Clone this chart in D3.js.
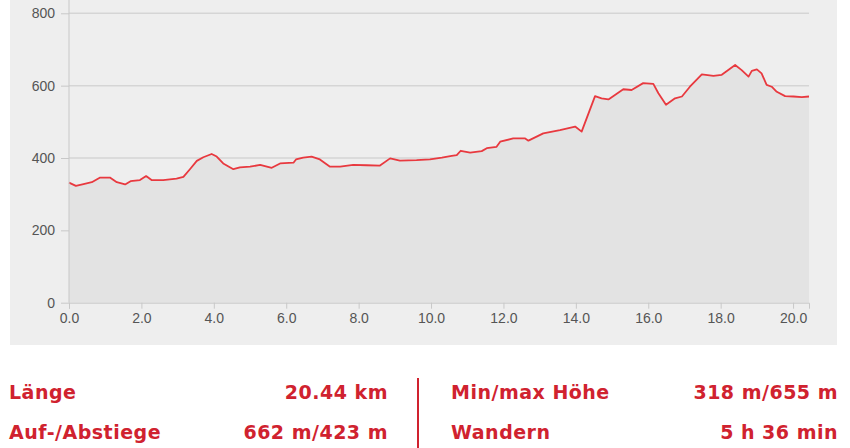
<!DOCTYPE html>
<html>
<head>
<meta charset="utf-8">
<script src="https://cdn.jsdelivr.net/npm/d3@7"></script>
<style>
  html, body { margin: 0; padding: 0; background: #fff; }
  svg { display: block; }
</style>
</head>
<body>
<div id="chart"></div>
<script>
// profile samples (km, m)
const distKm = [0, 0.19, 0.4, 0.63, 0.86, 1.13, 1.32, 1.55, 1.7, 1.96, 2.13, 2.28, 2.6, 2.97, 3.16, 3.34, 3.53, 3.71, 3.94, 4.08, 4.26, 4.54, 4.72, 5.0, 5.28, 5.6, 5.83, 6.2, 6.27, 6.47, 6.7, 6.93, 7.21, 7.49, 7.85, 8.22, 8.59, 8.87, 9.14, 9.6, 9.97, 10.3, 10.57, 10.71, 10.82, 11.08, 11.4, 11.54, 11.81, 11.91, 12.27, 12.6, 12.69, 13.1, 13.56, 13.98, 14.16, 14.53, 14.71, 14.9, 15.08, 15.31, 15.54, 15.86, 16.14, 16.28, 16.49, 16.74, 16.93, 17.15, 17.48, 17.8, 18.03, 18.21, 18.4, 18.58, 18.77, 18.86, 19.0, 19.13, 19.27, 19.41, 19.55, 19.78, 20.01, 20.24, 20.44];
const elevM = [332, 323, 328, 333, 346, 346, 333, 327, 336, 339, 350, 339, 339, 343, 348, 369, 392, 402, 411, 404, 385, 369, 374, 376, 381, 373, 385, 387, 396, 401, 404, 396, 376, 376, 381, 380, 379, 399, 393, 394, 396, 401, 406, 408, 420, 415, 419, 427, 431, 445, 454, 454, 448, 468, 477, 487, 473, 571, 565, 562, 574, 590, 588, 607, 605, 579, 547, 565, 570, 597, 631, 627, 630, 643, 657, 643, 625, 641, 645, 634, 602, 597, 583, 571, 570, 568, 570];

const yTicks = [0, 200, 400, 600, 800];
const xTicks = [0, 2, 4, 6, 8, 10, 12, 14, 16, 18, 20];

const statLabels = ['Länge', 'Auf-/Abstiege', 'Min/max Höhe', 'Wandern'];
const statValues = ['20.44 km', '662 m/423 m', '318 m/655 m', '5 h 36 min'];

const width = 850;
const height = 448;
const red = '#d0222f';

const svg = d3.select('#chart')
  .append('svg')
  .attr('width', width)
  .attr('height', height);

// grey panel behind the chart
svg.append('rect')
  .attr('x', 10)
  .attr('y', 0)
  .attr('width', 827)
  .attr('height', 345)
  .attr('fill', '#eeeeee');

const x = d3.scaleLinear()
  .domain([0, 20.44])
  .range([69, 809]);

const y = d3.scaleLinear()
  .domain([0, 800])
  .range([302.7, 13.3]);

// gridlines
svg.append('g')
  .selectAll('line')
  .data(yTicks.filter(d => d > 0))
  .enter().append('line')
  .attr('x1', x(0))
  .attr('x2', x(20.44))
  .attr('y1', d => y(d))
  .attr('y2', d => y(d))
  .attr('stroke', '#d5d5d5')
  .attr('stroke-width', 1.5);

const points = distKm.map((d, i) => [d, elevM[i]]);

const area = d3.area()
  .x(d => x(d[0]))
  .y0(y(0))
  .y1(d => y(d[1]));

const line = d3.line()
  .x(d => x(d[0]))
  .y(d => y(d[1]));

svg.append('path')
  .datum(points)
  .attr('d', area)
  .attr('fill', '#e3e3e3');

svg.append('path')
  .datum(points)
  .attr('d', line)
  .attr('fill', 'none')
  .attr('stroke', '#e8393f')
  .attr('stroke-width', 1.8)
  .attr('stroke-linejoin', 'round');

// left axis, line runs to the top of the panel
svg.append('line')
  .attr('x1', x(0)).attr('x2', x(0))
  .attr('y1', 0).attr('y2', y(0))
  .attr('stroke', '#c8c8c8');

const yAxis = svg.append('g')
  .attr('transform', `translate(${x(0)},0)`)
  .call(d3.axisLeft(y).tickValues(yTicks).tickSize(8).tickPadding(6).tickSizeOuter(0));

const xAxis = svg.append('g')
  .attr('transform', `translate(0,${y(0)})`)
  .call(d3.axisBottom(x).tickValues(xTicks).tickFormat(d3.format('.1f')).tickSize(6).tickPadding(4).tickSizeOuter(6));

[yAxis, xAxis].forEach(g => {
  g.select('.domain').attr('stroke', '#c8c8c8');
  g.selectAll('.tick line').attr('stroke', '#c8c8c8');
  g.selectAll('.tick text')
    .attr('fill', '#555')
    .style('font-family', '"Liberation Sans", Arial, sans-serif')
    .style('font-size', '14px');
});
yAxis.select('.domain').remove();

// stats table below the chart
const stats = svg.append('g')
  .style('font-family', '"DejaVu Sans", Verdana, sans-serif')
  .style('font-weight', 'bold')
  .style('font-size', '19px')
  .style('letter-spacing', '0.5px')
  .attr('fill', red);

const colLeft = [9, 451];
const colRight = [388, 838];
const rowBase = [399, 439];

stats.selectAll('text.label')
  .data(statLabels)
  .enter().append('text')
  .attr('class', 'label')
  .attr('x', (d, i) => colLeft[Math.floor(i / 2)])
  .attr('y', (d, i) => rowBase[i % 2])
  .text(d => d);

stats.selectAll('text.value')
  .data(statValues)
  .enter().append('text')
  .attr('class', 'value')
  .attr('x', (d, i) => colRight[Math.floor(i / 2)])
  .attr('y', (d, i) => rowBase[i % 2])
  .attr('text-anchor', 'end')
  .text(d => d);

svg.append('line')
  .attr('x1', 418).attr('x2', 418)
  .attr('y1', 378).attr('y2', 448)
  .attr('stroke', red)
  .attr('stroke-width', 2);
</script>
</body>
</html>
